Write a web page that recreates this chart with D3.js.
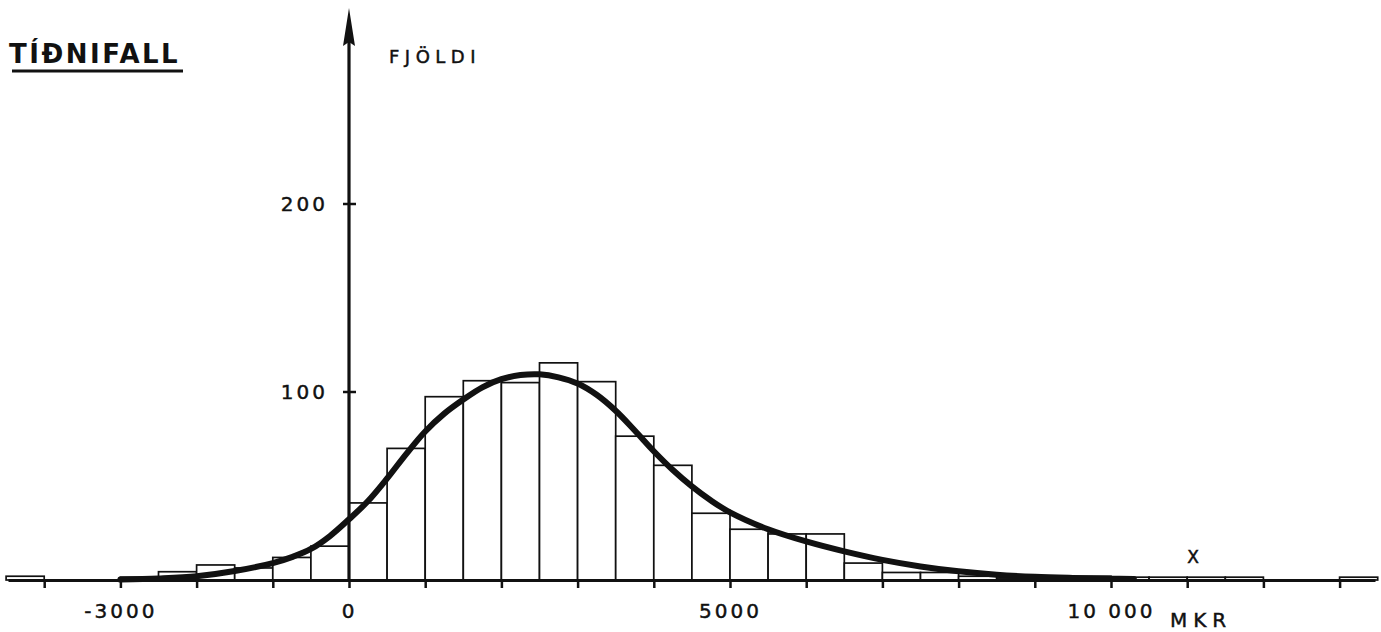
<!DOCTYPE html>
<html>
<head>
<meta charset="utf-8">
<script src="https://cdn.jsdelivr.net/npm/d3@7"></script>
<style>
  html, body { margin: 0; padding: 0; background: #fff; }
  svg { display: block; }
  text { font-family: "DejaVu Sans", sans-serif; fill: #111; }
</style>
</head>
<body>
<svg id="chart" width="1381" height="632"></svg>
<script>
// ---- data ----
const binStarts = [-4500,-4000,-3500,-3000,-2500,-2000,-1500,-1000,-500,0,500,1000,1500,2000,2500,3000,3500,4000,4500,5000,5500,6000,6500,7000,7500,8000,8500,9000,9500,10000,10500,11000,11500,12000,12500,13000];
const binCounts = [2,0,0,1.5,4.4,8,6.4,12,18,41,70,97.5,106,105,115.5,105.5,76.5,61,35.5,27,24.5,24.5,9,4,4,2,1,1,2,1.5,1.5,1.5,1.5,0,0,1.5];
const binWidth = 500;

const curveXs = [-3000,-2500,-2000,-1500,-1000,-750,-500,-250,0,250,500,750,1000,1250,1500,1750,2000,2250,2500,2750,3000,3250,3500,3750,4000,4250,4500,4750,5000,5500,6000,6500,7000,7500,8000,8500,9000,9500,10000,10300];
const curveYs = [0.2,0.8,2,4.8,9,12.2,16.5,23.4,32.3,42,54,67,79,88.5,96,102.5,106.8,109,109.4,107.8,104.5,98.5,90,79.5,68.5,58.5,49.8,42.3,36,27,20.5,15.2,10.7,7.2,4.6,2.8,1.7,1.1,0.7,0.5];

const xTickValues = [-4000,-3000,-2000,-1000,0,1000,2000,3000,4000,5000,6000,7000,8000,9000,10000,11000,12000,13000];
const xTickLabels = {"-3000":"-3000","0":"0","5000":"5000","10000":"10 000"};
const yTickValues = [100,200];

const title = "TÍÐNIFALL";
const yTitle = "FJÖLDI";
const xUnit = "MKR";
const xVar = "X";

// ---- scales ----
const x = d3.scaleLinear().domain([0,10000]).range([349,1111]);
const y = d3.scaleLinear().domain([0,100]).range([580,392]);

const svg = d3.select("#chart");

// bars
svg.append("g").selectAll("rect")
  .data(binStarts.map((s,i)=>({s, c: binCounts[i]})).filter(d=>d.c>0))
  .join("rect")
  .attr("x", d=>x(d.s))
  .attr("y", d=>y(d.c))
  .attr("width", d=>x(d.s+binWidth)-x(d.s))
  .attr("height", d=>y(0)-y(d.c))
  .attr("fill","#fff")
  .attr("stroke","#111")
  .attr("stroke-width",1.7);

// fitted curve
const line = d3.line().x(d=>x(d[0])).y(d=>y(d[1])).curve(d3.curveCatmullRom.alpha(0.5));
svg.append("path")
  .datum(curveXs.map((v,i)=>[v,curveYs[i]]))
  .attr("d", line)
  .attr("fill","none")
  .attr("stroke","#111")
  .attr("stroke-width",6)
  .attr("stroke-linecap","round")
  .attr("stroke-linejoin","round");

// x axis
const xAxisScale = d3.scaleLinear().domain([-4475,13465]).range([x(-4475), x(13465)]);
const gx = svg.append("g").attr("transform",`translate(0,${y(0)})`)
  .call(d3.axisBottom(xAxisScale).tickValues(xTickValues).tickSize(8).tickSizeOuter(0)
        .tickFormat(d => xTickLabels[String(d)] || ""));
gx.select(".domain").attr("stroke","#111").attr("stroke-width",3);
gx.selectAll(".tick line").attr("stroke","#111").attr("stroke-width",2.5);
gx.selectAll(".tick text")
  .attr("y", 38).attr("dy", 0)
  .style("font-family",'"DejaVu Sans", sans-serif')
  .style("font-size","20px")
  .style("letter-spacing","3px")
  .attr("fill","#111").attr("stroke","#111").attr("stroke-width",0.45);

svg.append("text").attr("x", 1170).attr("y", 627)
  .style("font-size","20px").style("letter-spacing","6px")
  .attr("stroke","#111").attr("stroke-width",0.45).text(xUnit);
svg.append("text").attr("x", 1193).attr("y", 563).attr("text-anchor","middle")
  .style("font-size","17px").attr("stroke","#111").attr("stroke-width",0.5).text(xVar);

// y axis
const gy = svg.append("g").attr("transform",`translate(${x(0)},0)`);
gy.append("line").attr("x1",0).attr("x2",0).attr("y1",y(0)).attr("y2",40)
  .attr("stroke","#111").attr("stroke-width",3.2);
gy.append("path").attr("d","M0,8 L6,46 L0,42 L-6,46 Z").attr("fill","#111");
gy.selectAll("line.t").data(yTickValues).join("line").attr("class","t")
  .attr("x1",-6).attr("x2",7).attr("y1",d=>y(d)).attr("y2",d=>y(d))
  .attr("stroke","#111").attr("stroke-width",2.5);
gy.selectAll("text.t").data(yTickValues).join("text").attr("class","t")
  .attr("x",-21).attr("y",d=>y(d)).attr("dy","0.36em").attr("text-anchor","end")
  .style("font-size","20px").style("letter-spacing","3px")
  .attr("stroke","#111").attr("stroke-width",0.45).text(d=>d);

svg.append("text").attr("x", 389).attr("y", 63)
  .style("font-size","18px").style("letter-spacing","5.5px")
  .attr("stroke","#111").attr("stroke-width",0.45).text(yTitle);

// title
svg.append("text").attr("x", 9).attr("y", 63)
  .style("font-size","26px").style("font-weight","bold").style("letter-spacing","2.5px").text(title);
svg.append("line").attr("x1",12).attr("x2",183).attr("y1",71).attr("y2",71)
  .attr("stroke","#111").attr("stroke-width",3);
</script>
</body>
</html>
